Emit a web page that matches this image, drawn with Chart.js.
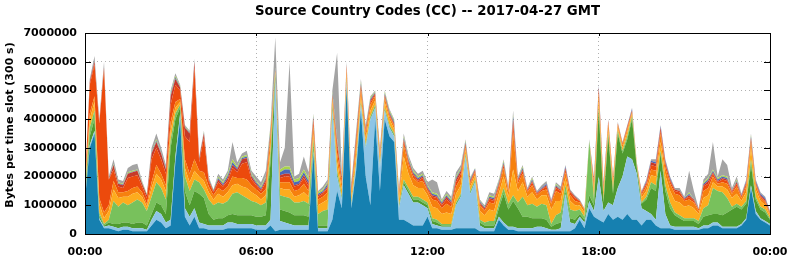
<!DOCTYPE html>
<html>
<head>
<meta charset="utf-8">
<script src="https://cdn.jsdelivr.net/npm/chart.js@4"></script>
<style>
  html, body { margin: 0; padding: 0; background: #fff; }
  #wrap { width: 792px; height: 259px; }
</style>
</head>
<body>
<div id="wrap"><canvas id="ccChart" width="792" height="259"></canvas></div>
<script>
// 10-minute slots, 00:00 .. 24:00 (145 points), values in millions of bytes
const chartTitle = 'Source Country Codes (CC) -- 2017-04-27 GMT';
const yAxisTitle = 'Bytes per time slot (300 s)';
const yTicks = [0, 1, 2, 3, 4, 5, 6, 7];
const xTickLabels = ['00:00', '06:00', '12:00', '18:00', '00:00'];

const darkBlue = [1.2,3.0,3.5,.5,.2,.2,.15,.1,.15,.15,.1,.1,.1,.1,.3,.5,.4,.2,.3,2.5,4.0,.6,.3,.6,.2,.2,.15,.15,.15,.15,.2,.2,.2,.2,.2,.2,.15,.15,.15,.3,.1,.15,.15,.15,.15,.15,.15,.15,2.8,.1,.1,.1,.5,1.5,.9,5.1,.9,2.2,4.3,2.0,1.0,4.0,1.5,4.0,3.4,3.2,.5,.5,.4,.3,.3,.3,.6,.2,.2,.15,.15,.15,.2,.2,.2,.2,.2,.1,.1,.1,.1,.5,.3,.15,.15,.1,.1,.1,.1,.1,.1,.1,.1,.1,.1,.1,.1,.2,.5,.2,.9,.6,.5,.4,.7,.5,.6,.5,.7,.5,.5,.3,.5,.5,.3,.2,.2,.2,.15,.15,.15,.15,.15,.15,.2,.2,.3,.3,.2,.2,.2,.2,.3,.5,1.6,.7,.5,.4,.3];
const lightBlue = [.05,.1,.1,.05,.05,.1,.1,.1,.1,.1,.1,.1,.1,.05,.2,.3,.3,.2,.2,.2,.2,.3,.3,.3,.2,.15,.15,.15,.15,.15,.2,.2,.15,.15,.15,.15,.15,.15,.15,.2,5.3,.3,.25,.2,.15,.15,.15,.15,.1,.1,.1,.1,3.8,.5,.3,.2,.1,.2,.2,1.0,3.0,.4,.8,.3,.3,.2,.4,1.2,1.0,.8,.8,.7,.3,.15,.1,.1,.1,.1,.8,1.1,2.5,1.2,1.6,.2,.1,.1,.1,.1,.1,.1,.1,.1,.1,.1,.1,.15,.15,.1,.05,.05,.1,1.3,.3,.15,.1,.2,.25,.2,1.5,.4,.4,.5,1.0,1.5,2.0,2.1,1.6,.6,.3,.2,.2,2.0,.5,.1,.1,.1,.1,.1,.1,.05,.1,.1,.1,.1,.05,.05,.05,.05,.05,.05,.1,.1,.05,.05,.05];
const darkGreen = [.1,.3,.4,.1,.05,.1,.1,.15,.15,.15,.15,.2,.2,.15,.2,.3,.3,.3,2.5,1.3,.2,.6,.4,.6,1.0,.9,.4,.2,.25,.25,.25,.3,.3,.3,.3,.3,.3,.3,.35,2.0,.1,.4,.4,.4,.35,.35,.35,.3,.2,.1,.1,.1,.1,.1,.05,.05,.05,.05,.05,.05,.05,.05,.05,.05,.05,.05,.05,.1,.1,.1,.1,.1,.1,.1,.1,.05,.05,.05,.05,.05,.05,.05,.05,.1,.1,.1,.1,.3,1.0,.6,.9,.7,.4,.4,.35,.3,.3,.3,.1,.2,.2,.1,.15,.15,.1,.1,.2,.2,2.3,.3,2.3,.4,1.9,.8,.6,1.4,.2,.15,.4,.9,1.0,.6,.8,.6,.4,.3,.2,.2,.2,.15,.3,.35,.3,.3,.4,.5,.6,.7,.5,.5,.7,.4,.3,.3,.15];
const lightGreen = [.1,.3,.3,.1,.05,.1,.8,.6,.7,.6,.75,.8,.7,.5,.6,.7,.6,.5,.3,.2,.1,.5,.5,.4,.4,.3,.5,.5,.55,.5,.5,.7,.8,.7,.6,.5,.5,.4,.45,.3,.1,.5,.5,.5,.45,.45,.5,.45,.2,.4,.5,.55,.1,.1,.05,.05,.05,.05,.05,.05,.05,.05,.05,.05,.05,.05,.05,.1,.1,.1,.1,.1,.1,.1,.1,.05,.05,.05,.05,.05,.05,.05,.05,.1,.1,.15,.15,.15,.2,.2,.2,.2,.7,.4,.5,.4,.5,.5,.1,.3,.35,.2,.3,.3,.15,.1,1.9,.2,.1,.1,.1,.1,.1,.1,.1,.1,.05,.05,.1,.2,.2,.1,.2,.2,.1,.1,.1,.1,.1,.1,.3,.35,.9,.8,.8,.5,.1,.1,.1,.1,.2,.1,.1,.1,.05];
const amber = [.15,.3,.3,.3,.2,.3,.4,.3,.2,.3,.3,.25,.2,.15,.3,.3,.3,.3,.3,.2,.1,.3,.3,.3,.2,.3,.25,.2,.3,.25,.3,.3,.3,.3,.35,.3,.25,.2,.25,.2,.05,.25,.25,.3,.2,.25,.3,.25,.2,.3,.3,.35,.15,.3,.25,.15,.2,.3,.2,.2,.2,.15,.15,.2,.2,.15,.2,.8,.5,.4,.3,.4,.25,.4,.4,.35,.4,.35,.3,.3,.15,.15,.15,.3,.25,.4,.35,.35,.4,.25,.9,.4,.5,.3,.4,.25,.3,.35,.5,.5,.4,.25,.3,.2,.15,.15,0,.3,.25,.25,.15,.2,.1,.1,.15,.1,.05,.15,.2,.25,.3,.3,.35,.4,.4,.45,.4,.45,.35,.25,.35,.35,.2,.15,.2,.3,.3,.35,.2,.3,.4,.25,.2,.15,.1];
const orange = [.1,.2,.2,.2,.2,.2,.3,.2,.15,.2,.2,.2,.15,.1,.2,.3,.2,.2,.3,.2,.1,.3,.3,.4,.2,.3,.2,.15,.2,.2,.2,.3,.2,.3,.3,.25,.2,.2,.2,.4,.05,.2,.25,.25,.2,.2,.3,.2,.25,.2,.2,.25,.1,.3,.2,.2,.15,.3,.25,.2,.2,.15,.15,.15,.1,.1,.15,.4,.3,.25,.2,.25,.15,.25,.25,.2,.3,.25,.25,.25,.1,.1,.1,.2,.15,.25,.25,.2,.3,.15,1.3,.25,.3,.15,.25,.15,.15,.2,.2,.35,.25,.2,.2,.15,.1,.1,0,.2,.25,.15,.2,.15,.1,.1,.1,.05,.05,.1,.15,.2,.2,.3,.25,.25,.25,.25,.2,.2,.2,.1,.25,.25,.2,.1,.15,.2,.15,.25,.1,.2,.2,.15,.1,.1,.05];
const vermilion = [.1,1.0,1.1,2.6,5.0,.9,.4,.2,.15,.45,.4,.4,.2,.2,.8,.6,.5,.4,.6,.6,.3,.8,1.1,3.2,.3,1.2,.2,.1,.2,.15,.2,.3,.2,.5,.6,.2,.15,.1,.25,.1,.02,.15,.2,.2,.15,.15,.2,.15,.2,.1,.1,.15,.05,.3,.15,.1,.1,.2,.1,.1,.1,.05,.1,.05,.05,.05,.05,.15,.1,.1,.05,.1,.05,.1,.1,.1,.15,.1,.15,.15,.05,.05,.05,.05,.05,.1,.1,.1,.1,.05,.3,.1,.1,.05,.1,.05,.05,.1,.05,.1,.1,.1,.1,.1,.05,0,0,.1,.1,.05,.05,.05,.05,.05,.05,.05,0,.05,.1,.15,.15,.1,.15,.1,.1,.1,.05,.1,.05,.05,.15,.15,.1,.05,.1,.1,.05,.1,.05,.1,.1,.05,.05,.05,.03];
const red = [0,.1,.1,.05,.05,0,.15,.1,.1,.15,.15,.15,.1,.1,.2,.2,.2,.15,.3,.2,.1,.3,.3,.2,.1,.15,.05,.05,.1,.05,.1,.1,.1,.15,.15,.1,.05,.05,.1,.05,.02,.1,.1,.1,.05,.05,.1,.1,.1,.05,.05,.05,.05,.1,.05,.05,.05,.1,.05,.05,.05,.05,.05,.05,.05,.05,.05,.05,.05,.05,.05,.05,.05,.05,.05,.05,.1,.05,.1,.1,.05,.05,.05,.05,.05,.05,.05,.05,.05,.05,.15,.05,.05,.03,.05,.03,.03,.05,.03,.05,.03,.05,.05,.05,0,0,0,.05,.1,.05,.05,.05,0,0,.05,0,0,.05,.05,.1,.1,.1,.05,.05,.05,.05,.03,.05,.05,0,.05,.1,.05,.05,.05,.05,.05,.05,.03,.05,.05,.05,.05,.05,.02];
const blue = [0,0,0,0,0,0,.02,.02,.02,.02,.02,.02,.02,.02,.03,.05,.03,.03,.05,.05,.02,.03,.03,.03,.03,.03,.03,.02,.05,.05,.08,.1,.05,.05,.05,.05,.05,.05,.05,.1,.03,.1,.15,.15,.1,.1,.1,.1,.05,.05,.05,.1,.05,.05,.05,.03,.05,.05,.05,.05,.05,.03,.05,.05,.05,.05,.05,.05,.05,.05,.05,.05,.05,.05,.05,.05,.05,.05,.05,.05,.05,.05,.03,.03,.03,.05,.05,.05,.05,.03,.1,.03,.05,.02,.05,.02,.02,.05,.02,.05,.02,.05,0,0,0,0,0,.05,.05,.05,0,0,0,0,0,.05,0,0,.05,.05,.05,.05,.05,.05,0,0,.02,.05,0,0,.05,.05,.05,.05,.05,.05,0,.05,.02,.05,.05,.05,.05,.05,0];
const lime = [0,0,0,0,0,0,.03,.03,.03,.03,.03,.03,.03,.03,.02,.05,.02,.02,.05,.05,.03,.02,.02,.02,.02,.02,.02,.03,.05,.05,.07,.1,.05,.05,.05,.05,.05,.05,.05,.1,.03,.1,.1,.1,.1,.1,.1,.1,.05,.05,.05,.05,.05,.05,.05,.02,.05,.05,.05,.05,.05,.02,.05,.05,.05,.05,.05,.05,.05,.05,.05,.05,.05,.05,.05,.05,.05,.05,.05,.05,.05,.03,.02,.02,.02,.05,.05,.05,.05,.02,.05,.02,.05,0,.05,0,0,0,0,.05,0,0,0,0,0,0,0,0,0,0,0,0,0,0,0,0,0,0,0,0,0,0,0,0,0,0,0,.05,0,0,.05,.05,.05,.05,.05,.05,0,.05,0,0,.05,0,0,0,0];
const grey = [0,.1,.2,.1,.2,.1,.15,.1,.1,.15,.2,.2,.05,0,.15,.2,.15,.1,.1,.1,.05,.05,.05,.05,.05,.05,.05,0,.1,.1,.1,.6,.15,.1,.15,.1,.15,.15,.2,.05,1.05,.25,.65,3.65,.1,.15,.45,.2,.05,.05,.1,.1,.05,3.0,.05,.05,.1,.1,.1,.05,.05,.05,.05,.05,.05,.05,.05,.1,.1,.1,.1,.1,.1,.45,.4,.05,.1,.1,.15,.1,.05,.05,0,.05,.05,.1,.1,.05,.05,.05,.15,.05,.05,.05,.05,.05,.1,.1,.05,.05,.1,.05,.05,.05,.05,.05,.05,.05,.05,.05,.05,.05,.05,.05,.05,.05,.05,.05,.05,.05,.1,.05,.05,.05,.05,.1,.05,.75,.3,.05,.1,.15,.95,.05,.55,.4,.1,.1,.05,.05,.05,.05,.05,.05,.05];

const layers = [
    { label: 'dark blue', data: darkBlue, color: '#1680b0' },
    { label: 'light blue', data: lightBlue, color: '#8ec5e6' },
    { label: 'dark green', data: darkGreen, color: '#4f9b2f' },
    { label: 'light green', data: lightGreen, color: '#78c15c' },
    { label: 'amber', data: amber, color: '#fdac1e' },
    { label: 'orange', data: orange, color: '#f6800e' },
    { label: 'vermilion', data: vermilion, color: '#ec4a0c' },
    { label: 'red', data: red, color: '#c53a2a' },
    { label: 'blue', data: blue, color: '#4b68b8' },
    { label: 'lime', data: lime, color: '#a9d44b' },
    { label: 'grey', data: grey, color: '#a4a4a4' },
];

const boldFont = (size) => `bold ${size}px 'DejaVu Sans', sans-serif`;

const frameAndTitles = {
    id: 'frameAndTitles',
    afterDatasetsDraw(chart) {
        const { ctx, chartArea: a, scales } = chart;
        ctx.save();
        ctx.strokeStyle = '#000';
        ctx.lineWidth = 1;
        ctx.beginPath();
        yTicks.slice(1, -1).forEach((v) => {
            const y = Math.round(scales.y.getPixelForValue(v * 1000000)) + 0.5;
            ctx.moveTo(a.left, y);
            ctx.lineTo(a.left + 6, y);
            ctx.moveTo(a.right, y);
            ctx.lineTo(a.right - 6, y);
        });
        [36, 72, 108].forEach((v) => {
            const x = Math.round(scales.x.getPixelForValue(v)) + 0.5;
            ctx.moveTo(x, a.top);
            ctx.lineTo(x, a.top + 3);
            ctx.moveTo(x, a.bottom);
            ctx.lineTo(x, a.bottom - 3);
        });
        ctx.stroke();
        ctx.strokeRect(Math.round(a.left) + 0.5, Math.round(a.top) + 0.5,
            Math.round(a.right - a.left), Math.round(a.bottom - a.top));

        ctx.fillStyle = '#000';
        ctx.textAlign = 'center';
        ctx.textBaseline = 'middle';
        ctx.font = boldFont(13.3);
        ctx.fillText(chartTitle, (a.left + a.right) / 2, 12);

        ctx.translate(10, 125);
        ctx.rotate(-Math.PI / 2);
        ctx.font = boldFont(11);
        ctx.fillText(yAxisTitle, 0, 0);
        ctx.restore();
    },
};

const font = { family: "'DejaVu Sans', sans-serif", size: 11, weight: 'bold' };

new Chart(document.getElementById('ccChart'), {
    type: 'line',
    data: {
        datasets: layers.map((layer, index) => ({
            label: layer.label,
            data: layer.data.map((v, i) => ({ x: i, y: v * 1000000 })),
            backgroundColor: layer.color,
            borderColor: layer.color,
            borderWidth: 0,
            pointRadius: 0,
            tension: 0,
            fill: index === 0 ? 'origin' : '-1',
        })),
    },
    options: {
        responsive: false,
        animation: false,
        layout: { padding: { left: 0, right: 22, top: 33, bottom: 0 } },
        plugins: {
            legend: { display: false },
            tooltip: { enabled: false },
            title: { display: false },
        },
        scales: {
            x: {
                type: 'linear',
                min: 0,
                max: 144,
                afterFit: (scale) => {
                    scale.height = 25;
                    scale.paddingLeft = 0;
                    scale.paddingRight = 0;
                },
                afterBuildTicks: (scale) => {
                    scale.ticks = xTickLabels.map((t, i) => ({ value: i * 36 }));
                },
                ticks: {
                    color: '#000',
                    font,
                    padding: 12,
                    maxRotation: 0,
                    callback: (v) => xTickLabels[Math.round(v / 36)],
                },
                grid: { color: '#b0b0b0', drawTicks: false },
                border: { display: false, dash: [1, 3] },
            },
            y: {
                stacked: true,
                min: 0,
                max: 7000000,
                afterFit: (scale) => {
                    scale.width = 85;
                    scale.paddingTop = 0;
                    scale.paddingBottom = 0;
                },
                afterBuildTicks: (scale) => {
                    scale.ticks = yTicks.map((v) => ({ value: v * 1000000 }));
                },
                ticks: {
                    color: '#000',
                    font,
                    padding: 8,
                    callback: (v) => String(v),
                },
                grid: { color: '#b0b0b0', drawTicks: false },
                border: { display: false, dash: [1, 3] },
            },
        },
    },
    plugins: [frameAndTitles],
});
</script>
</body>
</html>
